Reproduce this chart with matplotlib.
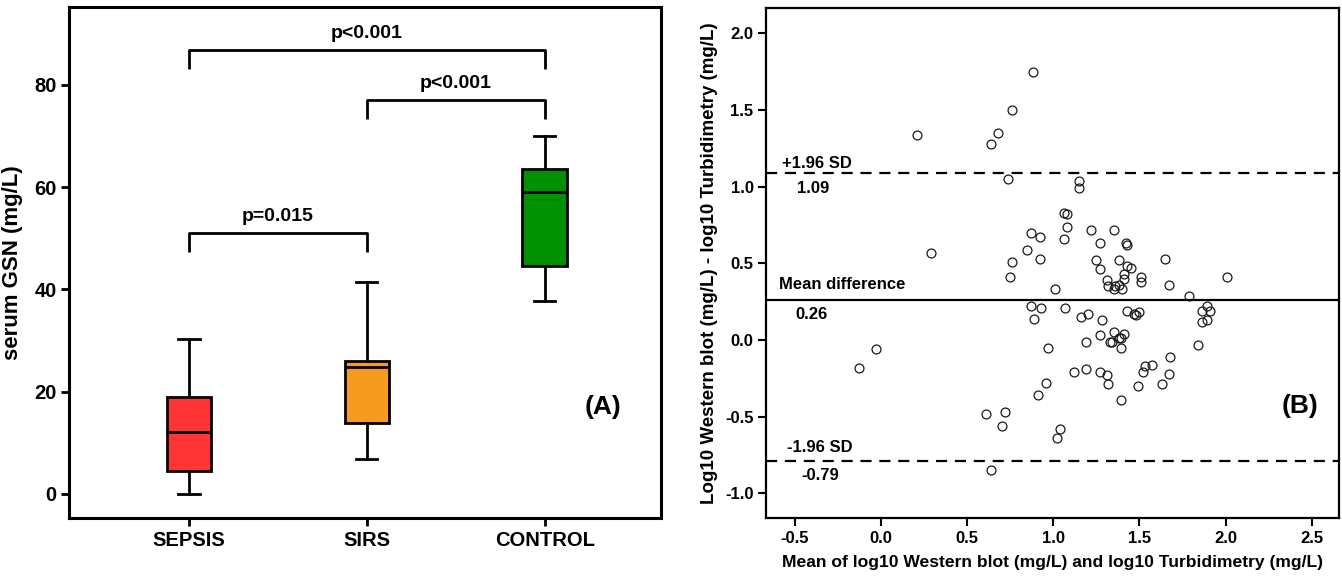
import matplotlib
matplotlib.use("Agg")
import matplotlib.pyplot as plt

plt.rcParams["font.family"] = ["Liberation Sans", "DejaVu Sans"]
plt.rcParams["font.weight"] = "bold"
plt.rcParams["axes.unicode_minus"] = False

# ---- Panel A: serum GSN by group ----
groups = ["SEPSIS", "SIRS", "CONTROL"]
whisker_low = [0.0, 6.9, 37.7]
q1 = [4.4, 13.9, 44.5]
median = [12.2, 24.8, 59.0]
q3 = [18.9, 26.0, 63.6]
whisker_high = [30.3, 41.5, 70.1]
box_colors = ["#FF3535", "#F59B1E", "#009100"]

comparisons = [(0, 2), (1, 2), (0, 1)]
p_labels = ["p<0.001", "p<0.001", "p=0.015"]

# ---- Panel B: Bland-Altman agreement ----
mean_log = [
    0.88, 0.76, 0.21, 0.68, 0.64, 0.74, 1.15, 1.15, 1.06, 1.08,
    1.08, 1.22, 1.35, 0.87, 0.92, 1.06, 1.27, 1.42, 1.43, 0.29,
    0.85, 0.92, 0.76, 1.25, 1.38, 1.65, 1.43, 1.45, 1.27, 1.41,
    1.41, 0.75, 1.51, 1.51, 2.01, 1.31, 1.32, 1.36, 1.38, 1.35,
    1.40, 1.01, 1.67, 1.79,
    0.87, 0.93, 1.07, 0.89, 1.16, 1.20, 1.28, 1.43, 1.47, 1.48,
    1.50, 1.89, 1.86, 1.91, 1.86, 1.89, 1.27, 1.35, 1.41, 1.33,
    1.34, 1.38, 1.39, 1.39, 1.19, 0.97, -0.03, -0.13, 1.84, 1.68,
    1.53, 1.57, 1.52, 1.67, 1.12, 1.19, 1.27, 1.31, 1.32, 1.49,
    1.63, 0.96, 0.91, 1.39, 0.61, 0.72, 0.70, 1.04, 1.02, 0.64,
]
diff_log = [
    1.75, 1.50, 1.34, 1.35, 1.28, 1.05, 1.04, 0.99, 0.83, 0.82,
    0.74, 0.72, 0.72, 0.70, 0.67, 0.66, 0.63, 0.63, 0.62, 0.57,
    0.59, 0.53, 0.51, 0.52, 0.52, 0.53, 0.48, 0.47, 0.46, 0.43,
    0.40, 0.41, 0.41, 0.38, 0.41, 0.39, 0.35, 0.35, 0.36, 0.33,
    0.33, 0.33, 0.36, 0.29,
    0.22, 0.21, 0.21, 0.14, 0.15, 0.17, 0.13, 0.19, 0.17, 0.16,
    0.18, 0.22, 0.19, 0.19, 0.12, 0.13, 0.03, 0.05, 0.04, -0.01,
    -0.01, 0.01, 0.01, -0.05, -0.01, -0.05, -0.06, -0.18, -0.03, -0.11,
    -0.17, -0.16, -0.21, -0.22, -0.21, -0.19, -0.21, -0.23, -0.29, -0.30,
    -0.29, -0.28, -0.36, -0.39, -0.48, -0.47, -0.56, -0.58, -0.64, -0.85,
]
mean_difference = 0.26
upper_loa = 1.09
lower_loa = -0.79

fig = plt.figure(figsize=(13.42, 5.82), dpi=100)

# ---------------- Panel A ----------------
axA = fig.add_axes([0.0516, 0.1095, 0.4409, 0.879])
stats = [
    dict(whislo=lo, q1=a, med=m, q3=b, whishi=hi, label=g)
    for g, lo, a, m, b, hi in zip(groups, whisker_low, q1, median, q3, whisker_high)
]
bp = axA.bxp(
    stats, positions=range(len(groups)), widths=0.25, capwidths=0.12,
    patch_artist=True, showfliers=False,
    boxprops=dict(linewidth=2.0, edgecolor="black"),
    medianprops=dict(color="black", linewidth=2.0),
    whiskerprops=dict(color="black", linewidth=2.0),
    capprops=dict(color="black", linewidth=2.0),
)
for patch, c in zip(bp["boxes"], box_colors):
    patch.set_facecolor(c)

axA.set_xlim(-0.672, 2.653)
axA.set_ylim(-4.75, 95.3)
axA.set_yticks([0, 20, 40, 60, 80])
axA.set_xticks(range(len(groups)))
axA.set_xticklabels(groups)
axA.tick_params(axis="both", labelsize=14.5, width=2, length=6, pad=3)
for s in axA.spines.values():
    s.set_linewidth(2.2)
axA.set_ylabel("serum GSN (mg/L)", fontsize=16, fontweight="bold", labelpad=8)

bracket_tops = [86.8, 77.0, 51.0]
bracket_drop = 3.6
for (i, j), lab, top in zip(comparisons, p_labels, bracket_tops):
    axA.plot([i, i, j, j], [top - bracket_drop, top, top, top - bracket_drop],
             color="black", linewidth=2.0, solid_capstyle="butt")
    axA.text((i + j) / 2, top + 1.6, lab, ha="center", va="bottom",
             fontsize=14, fontweight="bold")

axA.text(2.33, 17, "(A)", ha="center", va="center", fontsize=19, fontweight="bold")

# ---------------- Panel B ----------------
axB = fig.add_axes([0.5708, 0.1095, 0.427, 0.876])
axB.plot(mean_log, diff_log, linestyle="none", marker="o", markersize=6.4,
         markerfacecolor="none", markeredgecolor="#1a1a1a", markeredgewidth=0.9)
axB.axhline(mean_difference, color="black", linewidth=1.6)
axB.axhline(upper_loa, color="black", linewidth=1.6, linestyle=(0, (5, 3.5)))
axB.axhline(lower_loa, color="black", linewidth=1.6, linestyle=(0, (5, 3.5)))

axB.set_xlim(-0.667, 2.658)
axB.set_ylim(-1.163, 2.163)
xt = [-0.5, 0.0, 0.5, 1.0, 1.5, 2.0, 2.5]
yt = [-1.0, -0.5, 0.0, 0.5, 1.0, 1.5, 2.0]
axB.set_xticks(xt)
axB.set_xticklabels([f"{v:.1f}" for v in xt])
axB.set_yticks(yt)
axB.set_yticklabels([f"{v:.1f}" for v in yt])
axB.tick_params(axis="both", labelsize=12, width=1.5, length=6, pad=3)
for s in axB.spines.values():
    s.set_linewidth(1.6)
axB.set_xlabel("Mean of log10 Western blot (mg/L) and log10 Turbidimetry (mg/L)",
               fontsize=12.6, fontweight="bold", labelpad=7)
axB.set_ylabel("Log10 Western blot (mg/L) - log10 Turbidimetry (mg/L)",
               fontsize=13.5, fontweight="bold", labelpad=5)

axB.text(-0.572, 1.152, "+1.96 SD", ha="left", va="center", fontsize=12, fontweight="bold")
axB.text(-0.486, 0.989, f"{upper_loa:.2f}", ha="left", va="center", fontsize=12, fontweight="bold")
axB.text(-0.590, 0.359, "Mean difference", ha="left", va="center", fontsize=12, fontweight="bold")
axB.text(-0.497, 0.167, f"{mean_difference:.2f}", ha="left", va="center", fontsize=12, fontweight="bold")
axB.text(-0.546, -0.702, "-1.96 SD", ha="left", va="center", fontsize=12, fontweight="bold")
axB.text(-0.464, -0.887, f"{lower_loa:.2f}", ha="left", va="center", fontsize=12, fontweight="bold")
axB.text(2.434, -0.43, "(B)", ha="center", va="center", fontsize=19, fontweight="bold")

fig.savefig("out.png", dpi=100)
